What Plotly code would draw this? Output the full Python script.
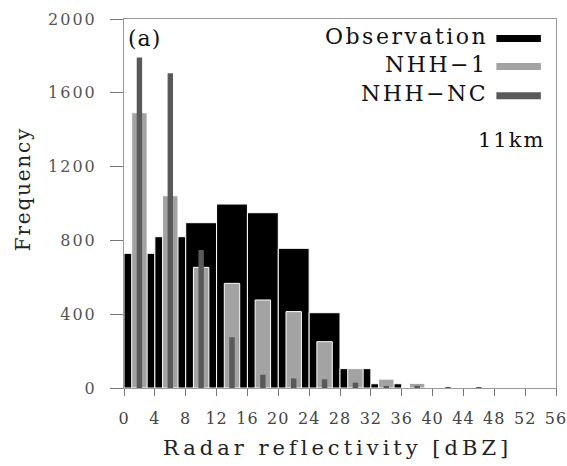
import plotly.graph_objects as go

# Histogram bins (4 dBZ wide), centres
bin_centers = [2, 6, 10, 14, 18, 22, 26, 30, 34, 38, 42, 46, 50, 54]
observation = [730, 820, 896, 997, 950, 757, 408, 105, 23, 0, 0, 0, 0, 0]
nhh_1 = [1492, 1042, 654, 567, 477, 414, 251, 105, 48, 25, 0, 0, 0, 0]
nhh_nc = [1792, 1706, 748, 275, 72, 52, 47, 29, 11, 12, 5, 5, 0, 0]

x_ticks = list(range(0, 57, 4))
y_ticks = [0, 400, 800, 1200, 1600, 2000]

series_names = ["Observation", "NHH\u22121", "NHH\u2212NC"]
series_colors = ["#000000", "#a3a3a3", "#595959"]

FONT = "DejaVu Serif"

def spaced(t, px):
    return f'<span style="letter-spacing:{px}px">{t}</span>'

fig = go.Figure()
fig.add_trace(go.Bar(x=bin_centers, y=observation, width=[4] * len(bin_centers),
                     marker=dict(color=series_colors[0], line=dict(color="white", width=1)),
                     name=series_names[0]))
fig.add_trace(go.Bar(x=bin_centers, y=nhh_1, width=[2] * len(bin_centers),
                     marker=dict(color=series_colors[1], line=dict(color="white", width=1)),
                     name=series_names[1]))
fig.add_trace(go.Bar(x=bin_centers, y=nhh_nc, width=[0.7] * len(bin_centers),
                     marker=dict(color=series_colors[2], line=dict(width=0)),
                     name=series_names[2]))

fig.update_layout(
    width=567, height=466,
    margin=dict(l=124, r=11, t=19, b=78),
    barmode="overlay",
    showlegend=False,
    plot_bgcolor="white", paper_bgcolor="white",
    font=dict(family=FONT, color="#222"),
)
fig.update_xaxes(
    range=[0, 56], tickvals=x_ticks, ticktext=[spaced(str(v), 1) for v in x_ticks],
    ticks="outside", ticklen=7, tickcolor="#777", ticklabelstandoff=9,
    tickfont=dict(size=16, color="#444", family=FONT), automargin=False,
    ticklabeloverflow="allow",
    showline=True, linecolor="#999", linewidth=1, mirror=True, showgrid=False, zeroline=False,
)
fig.update_yaxes(
    range=[0, 2000], tickvals=y_ticks, ticktext=[spaced(str(v), 2) for v in y_ticks],
    ticks="outside", ticklen=13, tickcolor="#777", ticklabelstandoff=10,
    tickfont=dict(size=16, color="#555", family=FONT), automargin=False,
    ticklabeloverflow="allow",
    showline=True, linecolor="#999", linewidth=1, mirror=True, showgrid=False, zeroline=False,
)

# Axis titles as annotations for exact placement
fig.add_annotation(xref="paper", yref="paper", x=0.495, y=-0.163, xanchor="center", yanchor="middle",
                   text=spaced("Radar reflectivity [dBZ]", 4), showarrow=False,
                   font=dict(size=21, color="#222"))
fig.add_annotation(xref="paper", yref="paper", x=-0.232, y=0.538, xanchor="center", yanchor="middle",
                   text=spaced("Frequency", 1.8), showarrow=False, textangle=-90,
                   font=dict(size=20, color="#222"))

# Legend drawn as text + sample line (text on the left, sample on the right)
leg_y = [0.952, 0.876, 0.797]
for name, col, yy in zip(series_names, series_colors, leg_y):
    fig.add_annotation(xref="paper", yref="paper", x=0.847, y=yy, xanchor="right", yanchor="middle",
                       text=spaced(name, 2.5), showarrow=False, font=dict(size=22, color="#111"))
    fig.add_shape(type="line", xref="paper", yref="paper", x0=0.862, x1=0.965, y0=yy - 0.005, y1=yy - 0.005,
                  line=dict(color=col, width=7))

fig.add_annotation(xref="paper", yref="paper", x=0.98, y=0.672, xanchor="right", yanchor="middle",
                   text=spaced("11km", 2), showarrow=False, font=dict(size=21, color="#111"))
fig.add_annotation(xref="paper", yref="paper", x=0.005, y=0.948, xanchor="left", yanchor="middle",
                   text=spaced("(a)", 1), showarrow=False, font=dict(size=22, color="#111"))

fig.write_html("out.html")
